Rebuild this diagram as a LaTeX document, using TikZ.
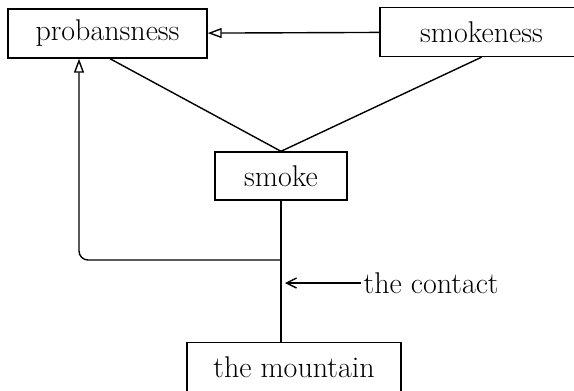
\documentclass[tikz,border=0pt]{standalone}
\usetikzlibrary{arrows.meta}
\begin{document}
\begin{tikzpicture}[x=1pt, y=-1pt, line width=1.4pt,
    box/.style={draw, inner xsep=2pt, minimum height=49pt, font=\fontsize{30}{36}\selectfont},
    label/.style={inner sep=2pt, font=\fontsize{30}{36}\selectfont},
    tri/.style={-{Triangle[open, length=14pt, width=10pt]}},
    barb/.style={-{Straight Barb[length=10pt, width=10pt]}}]
    \useasboundingbox (0,0) rectangle (574,391);
    \clip (0,0) rectangle (574,391);

    % Nodes
    \node[box, minimum width=199pt] at (107.5, 33.5)  (probansness)  {probansness};
    \node[box, minimum width=203pt] at (481.5, 32)    (smokeness)    {smokeness};
    \node[box, minimum width=132pt, minimum height=48pt] at (281, 176)  (smoke)  {smoke};
    \node[box, minimum width=214pt] at (294, 367)     (mountain)     {the mountain};
    \node[label, anchor=west] at (361, 283)  (contact)  {the contact};
    \coordinate (junction) at (281, 260);
    \coordinate (turn) at (79, 260);

    \draw[tri]  (smokeness) -- (probansness);
    \draw  (probansness.south) ++(2.5,0) coordinate (p) -- (smoke.north);
    \draw  (smokeness.south) -- (smoke.north);
    \draw  (smoke.south) -- (smoke.south |- mountain.north);
    \draw[tri, rounded corners=9pt]  (junction) -- (turn) -- (turn |- probansness.south);
    \draw[barb, shorten >=4pt]  (contact.west) -- (contact.west -| smoke.south);
\end{tikzpicture}
\end{document}
